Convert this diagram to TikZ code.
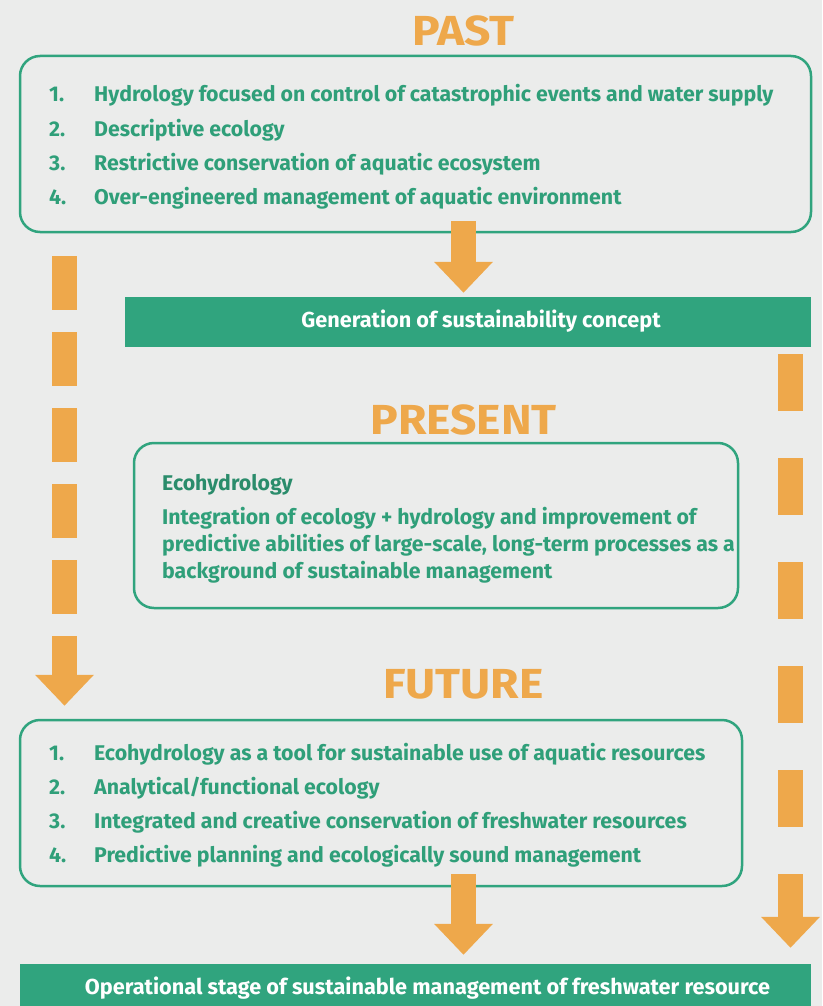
\documentclass[tikz,border=0pt]{standalone}
\usepackage{fontspec}
\setmainfont{Fira Sans}
\newfontfamily\titlefont{Fira Sans}[FakeStretch=1.1]
\usetikzlibrary{arrows.meta,positioning}
\definecolor{eco green}{HTML}{30A47E}
\definecolor{eco text}{HTML}{2F9F79}
\definecolor{eco dark}{HTML}{2A8C6B}
\definecolor{eco orange}{HTML}{EEA84B}
\definecolor{eco grey}{HTML}{EBECEB}

\tikzset{
  eratitle/.style={text=eco orange, font=\titlefont\bfseries\fontsize{42}{42}\selectfont, anchor=base, inner sep=0pt},
  erabox/.style={draw=eco green, line width=2.5pt, rounded corners=20pt, inner sep=0pt},
  item/.style={text=eco text, font=\bfseries\fontsize{21.3}{21.3}\selectfont, anchor=base west, inner sep=0pt},
  band/.style={fill=eco green, inner sep=0pt},
  bandtext/.style={text=white, font=\bfseries\fontsize{21.7}{21.7}\selectfont, anchor=base, inner sep=0pt},
  bigarrow/.style={draw=eco orange, line width=25pt, -{Triangle[width=57pt,length=31pt]}},
  dasharrow/.style={bigarrow, dash pattern=on 54pt off 22pt}
}

\begin{document}
\begin{tikzpicture}[x=1pt,y=-1pt]
			% background
			\fill[eco grey] (0,0) rectangle (822,1006);
			\useasboundingbox (0,0) rectangle (822,1006);
			% past
			\node[eratitle] (pasttitle) at (463.5,46) {PAST};
			\node[erabox, minimum width=791pt, minimum height=176pt] (past) at (415.5,144) {};
			\foreach \txt [count=\n] in {Hydrology focused on control of catastrophic events and water supply,
				Descriptive ecology,
				Restrictive conservation of aquatic ecosystem,
				Over-engineered management of aquatic environment}
				\node[item] (pastitem\n) at (49,68+34*\n) {\makebox[45pt][l]{\n.}\txt};
			% generation band
			\node[band, minimum width=686pt, minimum height=50pt] (gen) at (468,322) {};
			\node[bandtext] (gentext) at (481,327) {Generation of sustainability concept};
			% present
			\node[eratitle] (presenttitle) at (463.5,434) {PRESENT};
			\node[erabox, minimum width=604pt, minimum height=165pt] (present) at (436,525.5) {};
			\node[item, text=eco dark] (ecohyd) at (162,490) {Ecohydrology};
			\foreach \txt [count=\n] in {Integration of ecology + hydrology and improvement of,
				{predictive abilities of large-scale, long-term processes as a},
				background of sustainable management}
				\node[item] (presentline\n) at (162,497+27*\n) {\txt};
			% future
			\node[eratitle] (futuretitle) at (463.5,698) {FUTURE};
			\node[erabox, minimum width=722pt, minimum height=166pt] (future) at (381,803) {};
			\foreach \txt [count=\n] in {Ecohydrology as a tool for sustainable use of aquatic resources,
				Analytical/functional ecology,
				Integrated and creative conservation of freshwater resources,
				Predictive planning and ecologically sound management}
				\node[item] (futureitem\n) at (49,726+34*\n) {\makebox[45pt][l]{\n.}\txt};
			% operational band
			\node[band, minimum width=791pt, minimum height=50pt] (oper) at (415.5,989) {};
			\node[bandtext] (opertext) at (427.5,994) {Operational stage of sustainable management of freshwater resource};
			% arrows
			\coordinate (pastout) at (463.5,221);
			\coordinate (leftstart) at (64.5,256);
			\coordinate (rightstart) at (790.5,354);
			\coordinate (futureout) at (463.5,874);
			\draw[bigarrow, shorten >=4pt] (pastout) -- (pastout |- gen.north);
			\draw[dasharrow, shorten >=13pt] (leftstart) -- (leftstart |- future.north);
			\draw[dasharrow, dash pattern=on 57pt off 47pt, shorten >=16pt] (rightstart) -- (rightstart |- oper.north);
			\draw[bigarrow, shorten >=9pt] (futureout) -- (futureout |- oper.north);
		\end{tikzpicture}
\end{document}
